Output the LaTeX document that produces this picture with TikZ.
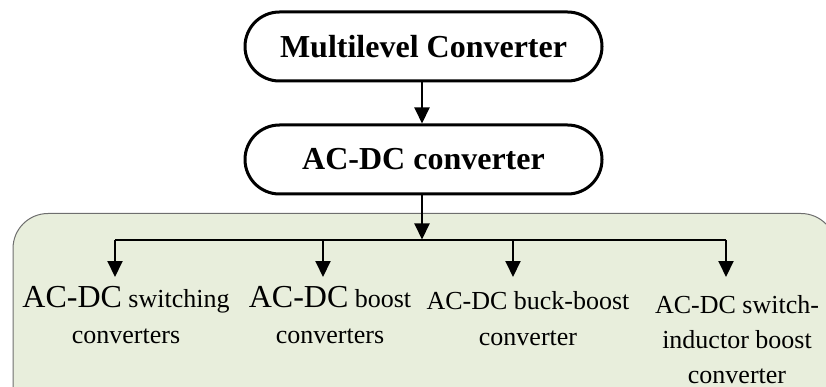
\documentclass[tikz,border=0pt]{standalone}
\usepackage{fontspec}
\setmainfont{Liberation Serif}
\usetikzlibrary{arrows.meta}
\definecolor{panelfill}{HTML}{E8EEDC}
\definecolor{panelline}{HTML}{6E6E6E}
\tikzset{
  stadium/.style={draw, line width=3pt, rounded corners=34.5pt,
    minimum width=357pt, minimum height=69pt, inner sep=0pt,
    font=\fontsize{32}{36}\selectfont\bfseries},
  flow/.style={line width=2pt, -{Triangle[length=16pt,width=15pt]}},
  bus/.style={line width=2pt},
  leaf/.style={anchor=north, inner sep=0pt, align=center,
    font=\fontsize{26}{36}\selectfont},
}
\newcommand{\largeacdc}{\fontsize{32}{36}\selectfont AC-DC}
\begin{document}
\begin{tikzpicture}[x=1pt, y=-1pt]
  \useasboundingbox (0,0) rectangle (826,387);
  \begin{scope}
    \clip (0,0) rectangle (826,387);
    % shaded panel holding the four converter families
    \draw[fill=panelfill, draw=panelline, line width=1pt, rounded corners=35pt]
      (13,213.5) rectangle (836,440);
  \end{scope}

  % main chain
  \node[stadium] (ml) at (423.5,46.5) {Multilevel Converter};
  \node[stadium] (acdc) at (423.5,159.5) {AC-DC converter};
  \coordinate (hub) at (422,239.5);
  \draw[flow] (ml.south -| hub) -- (acdc.north -| hub);
  \draw[flow] (acdc.south -| hub) -- (hub);

  % distribution bus and branch tips
  \coordinate (b1) at (115,239.5);
  \coordinate (b2) at (323,239.5);
  \coordinate (b3) at (513,239.5);
  \coordinate (b4) at (726,239.5);
  \coordinate (t1) at (115,277);
  \coordinate (t2) at (323,277);
  \coordinate (t3) at (513,277);
  \coordinate (t4) at (726,277);
  \draw[bus] (b1) -- (b4);
  \foreach \i in {1,...,4} \draw[flow] (b\i) -- (t\i);

  % converter families
  \node[leaf] (l1) at (126,286.5) {{\largeacdc} switching\\converters};
  \node[leaf] (l2) at (330,286.5) {{\largeacdc} boost\\converters};
  \node[leaf] (l3) at (528,291) {AC-DC buck-boost\\converter};
  \node[leaf, font=\fontsize{26}{35}\selectfont] (l4) at (737,295)
    {AC-DC switch-\\inductor boost\\converter};
\end{tikzpicture}
\end{document}
